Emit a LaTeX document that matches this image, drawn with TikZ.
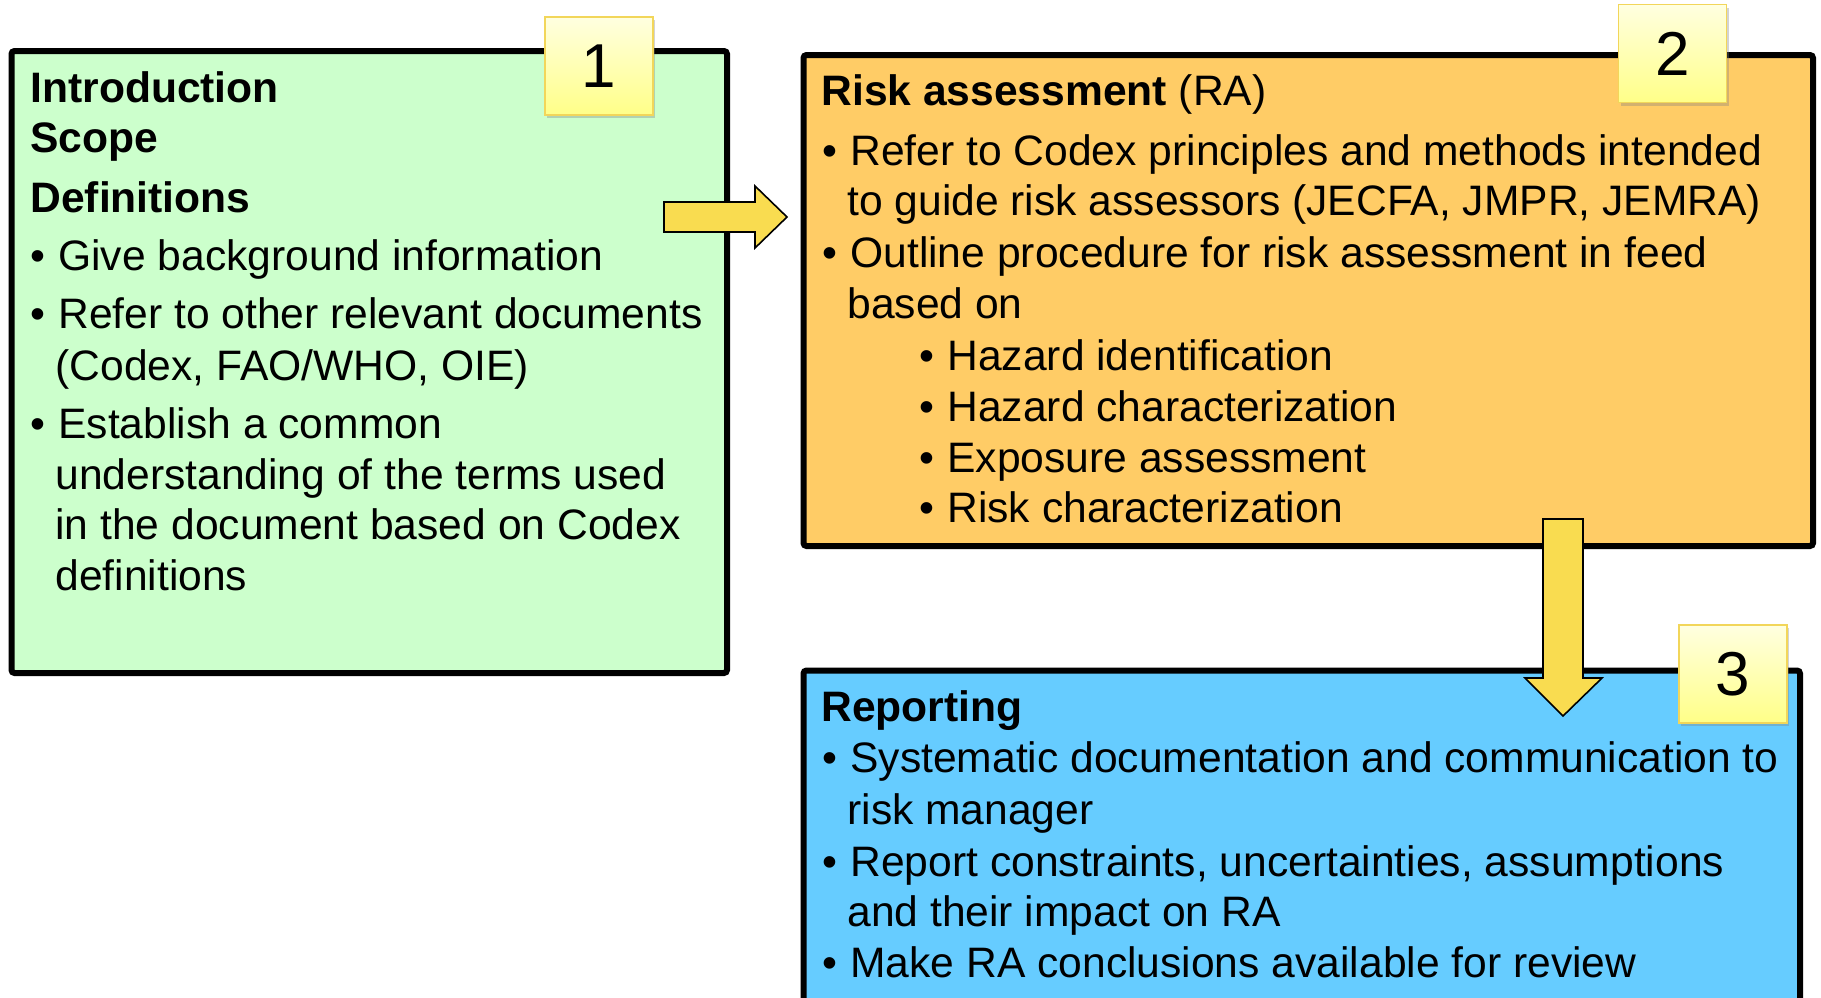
\documentclass[tikz,border=0pt]{standalone}
\usepackage{fontspec}
\setmainfont{Liberation Sans}
\usetikzlibrary{shadows}
\definecolor{introgreen}{HTML}{CCFFCC}
\definecolor{raorange}{HTML}{FFCC66}
\definecolor{repblue}{HTML}{66CCFF}
\definecolor{arrowgold}{HTML}{F9DC50}
\definecolor{tagtop}{HTML}{FFFFE0}
\definecolor{tagbot}{HTML}{FFFF88}
\definecolor{tagedge}{HTML}{F2D65A}
\newcommand{\bul}{\makebox[14pt][l]{\textbullet}}

\begin{document}
\begin{tikzpicture}[x=0.5pt, y=-0.5pt,
    part/.style={draw=black, line width=3pt, rounded corners=1.5pt, inner sep=0pt},
    txt/.style={anchor=base west, inner sep=0pt, font=\fontsize{21.3}{25}\selectfont},
    hd/.style={txt, font=\fontsize{21.3}{25}\selectfont\bfseries},
    tag/.style={draw=tagedge, line width=0.8pt, top color=tagtop, bottom color=tagbot,
      minimum width=54pt, minimum height=49pt, inner sep=0pt, font=\fontsize{31}{31}\selectfont,
      drop shadow={opacity=0.35, shadow xshift=1pt, shadow yshift=-1.5pt}},
    blockarrow/.style={draw=black, line width=0.8pt, fill=arrowgold, line join=miter}]
      \useasboundingbox (0,0) rectangle (1821,997);
      \node[part, fill=introgreen, minimum width=357.75pt, minimum height=311pt] (intro) at (369.25,362) {};
      \node[part, fill=raorange, minimum width=504.75pt, minimum height=245.5pt] (ra) at (1308.25,300.5) {};
      \node[part, fill=repblue, minimum width=498.25pt, minimum height=174.75pt] (rep) at (1301.75,845.25) {};
      \draw[blockarrow] (664,202) -- (755,202) -- (755,186) -- (787,217) -- (755,248) -- (755,232) -- (664,232) -- cycle;
      \draw[blockarrow] (1543,519) -- (1583,519) -- (1583,678) -- (1602,678) -- (1563,716) -- (1525,678) -- (1543,678) -- cycle;
      \node[tag] (n1) at (599,66) {1};
      \node[tag] (n2) at (1672.5,53.5) {2};
      \node[tag] (n3) at (1733,674) {3};
      \node[hd] (g1) at (30,102) {Introduction};
      \node[hd] (g2) at (30,152) {Scope};
      \node[hd] (g3) at (30,212) {Definitions};
      \node[txt] (g4) at (30,270) {\bul Give background information};
      \node[txt] (g5) at (30,328) {\bul Refer to other relevant documents};
      \node[txt] (g6) at (55,380) {(Codex, FAO/WHO, OIE)};
      \node[txt] (g7) at (30,438) {\bul Establish a common};
      \node[txt] (g8) at (55,489) {understanding of the terms used};
      \node[txt] (g9) at (55,539) {in the document based on Codex};
      \node[txt] (g10) at (55,590) {definitions};
      \node[txt] (r1) at (821,105) {\textbf{Risk assessment} (RA)};
      \node[txt] (r2) at (822,165) {\bul Refer to Codex principles and methods intended};
      \node[txt] (r3) at (847,215) {to guide risk assessors (JECFA, JMPR, JEMRA)};
      \node[txt] (r4) at (822,267) {\bul Outline procedure for risk assessment in feed};
      \node[txt] (r5) at (847,318) {based on};
      \node[txt] (r6) at (919,370) {\bul Hazard identification};
      \node[txt] (r7) at (919,421) {\bul Hazard characterization};
      \node[txt] (r8) at (919,472) {\bul Exposure assessment};
      \node[txt] (r9) at (919,522) {\bul Risk characterization};
      \node[hd] (p1) at (821,721) {Reporting};
      \node[txt] (p2) at (822,772) {\bul Systematic documentation and communication to};
      \node[txt] (p3) at (847,824) {risk manager};
      \node[txt] (p4) at (822,876) {\bul Report constraints, uncertainties, assumptions};
      \node[txt] (p5) at (847,926) {and their impact on RA};
      \node[txt] (p6) at (822,977) {\bul Make RA conclusions available for review};
\end{tikzpicture}
\end{document}
